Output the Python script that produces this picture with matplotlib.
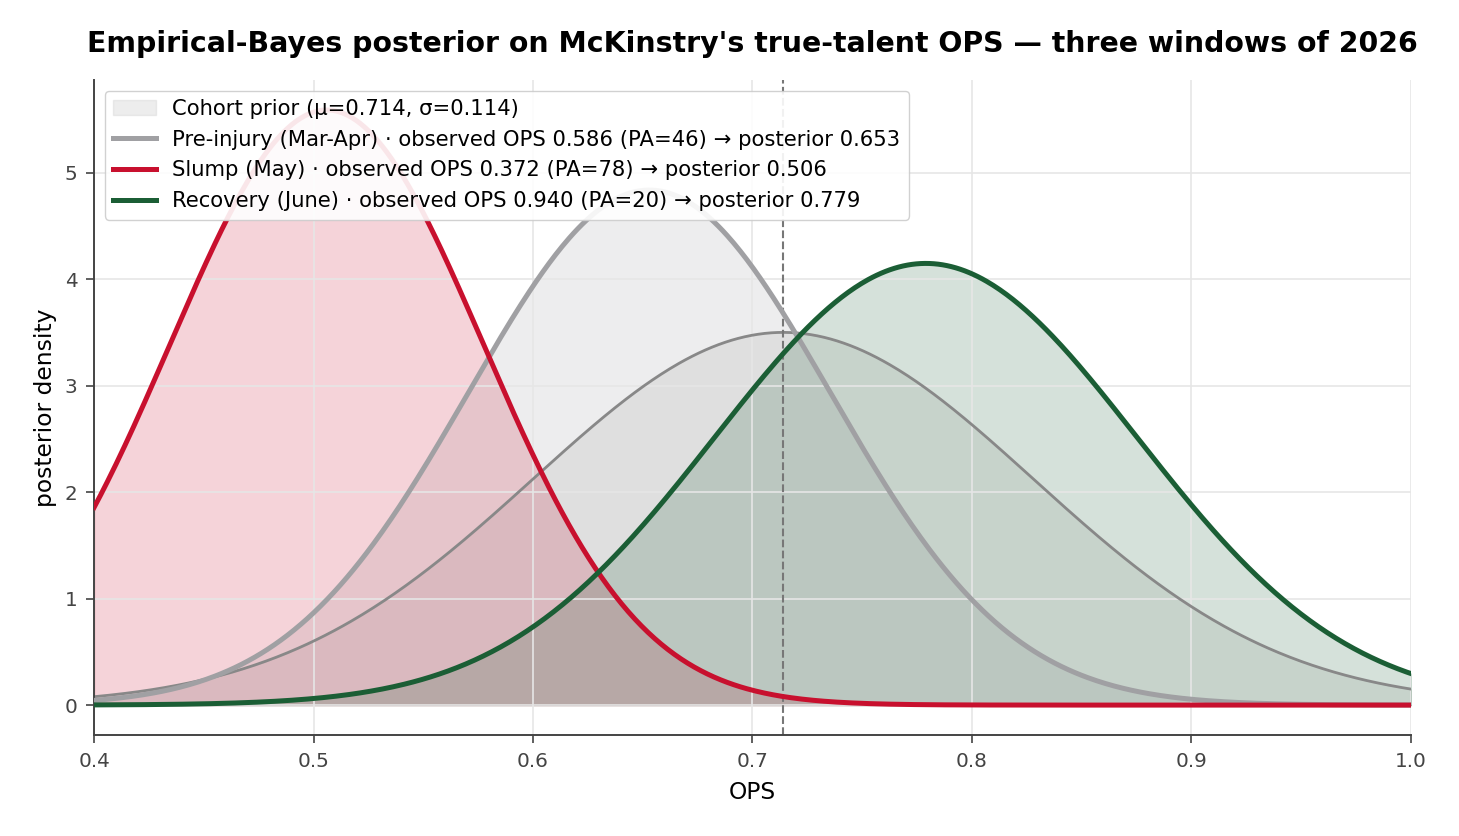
import numpy as np
import matplotlib.pyplot as plt

# Cohort prior and the three 2026 windows
prior_mu, prior_sd = 0.714, 0.114
labels = ['Pre-injury (Mar-Apr)', 'Slump (May)', 'Recovery (June)']
obs_ops = [0.586, 0.372, 0.940]
pa = [46, 78, 20]
post_mu = [0.653, 0.506, 0.779]
post_sd = [0.0825, 0.0714, 0.0962]
colors = ['#a0a0a3', '#c8102e', '#1b5e35']

x = np.linspace(0.4, 1.0, 600)


def npdf(x, mu, sd):
    return np.exp(-0.5 * ((x - mu) / sd) ** 2) / (sd * np.sqrt(2 * np.pi))


fig, ax = plt.subplots(figsize=(14.59, 8.36), dpi=100)

prior = npdf(x, prior_mu, prior_sd)
ax.fill_between(x, prior, color='#bbbbbb', alpha=0.25, zorder=0.3,
                label=f'Cohort prior (μ={prior_mu}, σ={prior_sd})')
ax.plot(x, prior, color='#888888', lw=2, zorder=2)

for lab, o, n, m, s, c in zip(labels, obs_ops, pa, post_mu, post_sd, colors):
    y = npdf(x, m, s)
    ax.fill_between(x, y, color=c, alpha=0.18, zorder=0.3)
    ax.plot(x, y, color=c, lw=3.6, zorder=3,
            label=f'{lab} · observed OPS {o:.3f} (PA={n}) → posterior {m:.3f}')

ax.axvline(prior_mu, color='#777777', ls='--', lw=1.5, zorder=2.5)

ax.set_xlim(0.4, 1.0)
ax.set_axisbelow(True)
ax.grid(True, color='#e6e6e6', lw=1.2)
for sp in ['top', 'right']:
    ax.spines[sp].set_visible(False)
for sp in ['left', 'bottom']:
    ax.spines[sp].set_color('#444444')
    ax.spines[sp].set_linewidth(1.4)
ax.tick_params(colors='#444444', labelsize=14.4, length=6, width=1.2, pad=6)
ax.set_xlabel('OPS', fontsize=16.8, labelpad=7.5)
ax.set_ylabel('posterior density', fontsize=16.8, labelpad=5.5)
ax.set_title("Empirical-Bayes posterior on McKinstry's true-talent OPS — three windows of 2026",
             fontsize=20.4, fontweight='bold', pad=20)
ax.legend(loc='upper left', fontsize=15.25, framealpha=0.9, handlelength=2.0)

plt.subplots_adjust(left=0.0645, right=0.967, top=0.904, bottom=0.121)
plt.savefig('out.png')
